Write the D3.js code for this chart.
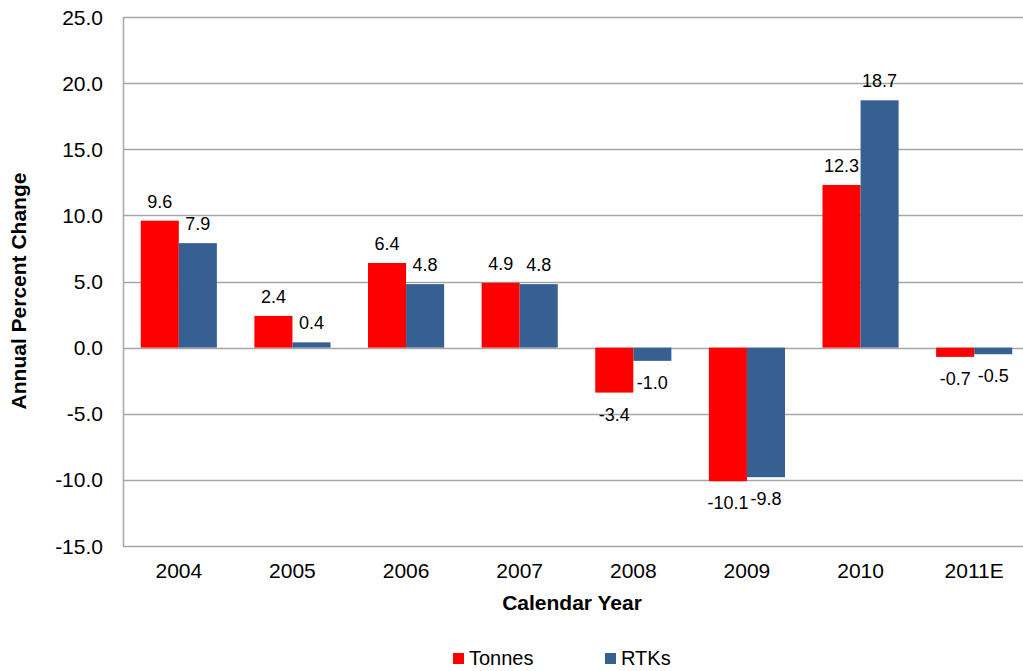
<!DOCTYPE html>
<html>
<head>
<meta charset="utf-8">
<script src="https://cdn.jsdelivr.net/npm/d3@7"></script>
<style>
  body { margin: 0; background: #fff; }
  svg { display: block; font-family: "Liberation Sans", Arial, sans-serif; }
</style>
</head>
<body>
<div id="chart"></div>
<script>
const width = 1023, height = 671;

const years = ['2004', '2005', '2006', '2007', '2008', '2009', '2010', '2011E'];
const tonnes = [9.6, 2.4, 6.4, 4.9, -3.4, -10.1, 12.3, -0.7];
const rtks = [7.9, 0.4, 4.8, 4.8, -1.0, -9.8, 18.7, -0.5];
const series = ['Tonnes', 'RTKs'];
const colors = ['#ff0000', '#376092'];
const yTicks = [-15, -10, -5, 0, 5, 10, 15, 20, 25];

// plain hyphen for negatives, like the original
const fmt = d => d.toFixed(1);

const svg = d3.select('#chart')
  .append('svg')
    .attr('width', width)
    .attr('height', height);

const x = d3.scaleBand()
  .domain(years)
  .range([122, 1031])
  .paddingInner(0.33)
  .paddingOuter(0.165);

const xs = d3.scaleBand()
  .domain(series)
  .range([0, x.bandwidth()]);

const y = d3.scaleLinear()
  .domain([-15, 25])
  .range([546, 17]);

// gridlines
svg.append('g')
  .selectAll('line')
  .data(yTicks)
  .join('line')
    .attr('x1', 123)
    .attr('x2', width)
    .attr('y1', d => Math.round(y(d)) + 0.5)
    .attr('y2', d => Math.round(y(d)) + 0.5)
    .attr('stroke', '#a6a6a6')
    .attr('stroke-width', 1.5);

// y axis line
svg.append('line')
  .attr('x1', 123.5).attr('x2', 123.5)
  .attr('y1', y(25)).attr('y2', y(-15) + 1)
  .attr('stroke', '#a6a6a6')
  .attr('stroke-width', 1.5);

// y tick labels
svg.append('g')
  .selectAll('text')
  .data(yTicks)
  .join('text')
    .attr('x', 103)
    .attr('y', d => y(d))
    .attr('dy', '0.36em')
    .attr('text-anchor', 'end')
    .style('font-size', '21px')
    .text(fmt);

// x tick labels
svg.append('g')
  .selectAll('text')
  .data(years)
  .join('text')
    .attr('x', d => x(d) + x.bandwidth() / 2)
    .attr('y', 578)
    .attr('text-anchor', 'middle')
    .style('font-size', '21px')
    .text(d => d);

const rows = years.map((yr, i) => ({ year: yr, values: [tonnes[i], rtks[i]] }));

const groups = svg.append('g')
  .selectAll('g')
  .data(rows)
  .join('g')
    .attr('transform', d => `translate(${x(d.year)},0)`);

const bars = groups.selectAll('g')
  .data(d => d.values.map((v, j) => ({ key: series[j], v: v, j: j })))
  .join('g');

bars.append('rect')
  .attr('x', d => xs(d.key))
  .attr('width', xs.bandwidth())
  .attr('y', d => y(Math.max(0, d.v)))
  .attr('height', d => Math.abs(y(d.v) - y(0)))
  .attr('fill', d => colors[d.j]);

bars.append('text')
  .attr('x', d => xs(d.key) + xs.bandwidth() / 2)
  .attr('y', d => d.v >= 0 ? y(d.v) - 13 : y(d.v) + 28)
  .attr('text-anchor', 'middle')
  .style('font-size', '18px')
  .text(d => fmt(d.v));

// axis titles
svg.append('text')
  .attr('x', 572)
  .attr('y', 610)
  .attr('text-anchor', 'middle')
  .style('font-size', '21px')
  .style('font-weight', 'bold')
  .text('Calendar Year');

svg.append('text')
  .attr('transform', 'translate(26,291) rotate(-90)')
  .attr('text-anchor', 'middle')
  .style('font-size', '21px')
  .style('font-weight', 'bold')
  .text('Annual Percent Change');

// legend
const legendX = [453, 605];
const legend = svg.append('g')
  .selectAll('g')
  .data(series)
  .join('g')
    .attr('transform', (d, i) => `translate(${legendX[i]},653)`);

legend.append('rect')
  .attr('width', 11)
  .attr('height', 11)
  .attr('fill', (d, i) => colors[i]);

legend.append('text')
  .attr('x', 16)
  .attr('y', 12)
  .style('font-size', '20px')
  .text(d => d);

// source note, cut off by the bottom edge as in the original
svg.append('text')
  .attr('x', 8)
  .attr('y', 683)
  .style('font-size', '17px')
  .text('Source: 2004-10 ICAO, 2011 IATA');
</script>
</body>
</html>
